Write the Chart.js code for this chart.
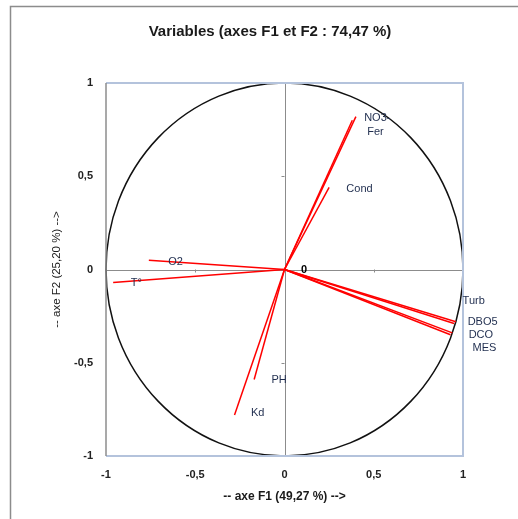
<!DOCTYPE html>
<html lang="fr">
<head>
    <meta charset="UTF-8">
    <title>Variables (axes F1 et F2)</title>
    <script src="https://cdn.jsdelivr.net/npm/chart.js"></script>
    <style>
        html, body { margin: 0; padding: 0; background: #fff; }
        #wrap { position: relative; width: 518px; height: 519px; }
    </style>
</head>
<body>
    <div id="wrap"><canvas id="cercle"></canvas></div>
    <script>
        // coordonnées des variables sur F1 / F2
        const varNames = ['NO3-', 'Fer', 'Cond', 'O2', 'T°', 'PH', 'Kd', 'Turb', 'DBO5', 'DCO', 'MES'];
        const f1 = [0.40, 0.38, 0.25, -0.76, -0.96, -0.17, -0.28, 0.96, 0.95, 0.94, 0.93];
        const f2 = [0.82, 0.80, 0.44, 0.05, -0.07, -0.59, -0.78, -0.28, -0.29, -0.34, -0.35];
        // où Excel a posé les étiquettes (en unités des axes)
        const labelF1 = [0.52, 0.51, 0.42, -0.61, -0.83, -0.03, -0.15, 1.06, 1.11, 1.10, 1.12];
        const labelF2 = [0.81, 0.74, 0.43, 0.04, -0.07, -0.59, -0.77, -0.17, -0.28, -0.35, -0.42];
        const tickValues = [-1, -0.5, 0, 0.5, 1];

        const titleText = 'Variables (axes F1 et F2 : 74,47 %)';
        const xTitle = '-- axe F1 (49,27 %) -->';
        const yTitle = '-- axe F2 (25,20 %) -->';

        const fmt = v => String(v).replace('.', ',');

        const datasets = varNames.map((name, i) => ({
            label: name,
            data: [{x: 0, y: 0}, {x: f1[i], y: f2[i]}],
            showLine: true,
            borderColor: '#ff0000',
            borderWidth: 1.5,
            pointRadius: 0
        }));

        const decor = {
            id: 'decor',
            beforeDraw(chart) {
                const ctx = chart.ctx;
                ctx.save();
                ctx.fillStyle = '#fff';
                ctx.fillRect(0, 0, chart.width, chart.height);
                // cadre extérieur
                ctx.strokeStyle = '#8c8c8c';
                ctx.lineWidth = 1.5;
                ctx.beginPath();
                ctx.moveTo(10.5, chart.height);
                ctx.lineTo(10.5, 6.5);
                ctx.lineTo(chart.width, 6.5);
                ctx.stroke();
                // titre
                ctx.font = 'bold 15px "Liberation Sans", Arial, sans-serif';
                ctx.fillStyle = '#1a1a1a';
                ctx.textAlign = 'center';
                ctx.textBaseline = 'middle';
                ctx.fillText(titleText, 270, 32);
                ctx.restore();
            },
            beforeDatasetsDraw(chart) {
                const {ctx, chartArea: a, scales: {x, y}} = chart;
                const cx = x.getPixelForValue(0), cy = y.getPixelForValue(0);
                ctx.save();
                // axes passant par 0
                ctx.strokeStyle = '#8c8c8c';
                ctx.lineWidth = 1;
                ctx.beginPath();
                ctx.moveTo(a.left, Math.round(cy) + 0.5);
                ctx.lineTo(a.right, Math.round(cy) + 0.5);
                ctx.moveTo(Math.round(cx) + 0.5, a.top);
                ctx.lineTo(Math.round(cx) + 0.5, a.bottom);
                tickValues.forEach(v => {
                    const px = Math.round(x.getPixelForValue(v)) + 0.5;
                    ctx.moveTo(px, cy);
                    ctx.lineTo(px, cy + 3);
                    const py = Math.round(y.getPixelForValue(v)) + 0.5;
                    ctx.moveTo(cx, py);
                    ctx.lineTo(cx - 3, py);
                });
                ctx.stroke();
                // cercle des corrélations
                ctx.strokeStyle = '#111';
                ctx.lineWidth = 1.5;
                ctx.beginPath();
                ctx.ellipse(cx, cy, x.getPixelForValue(1) - cx, cy - y.getPixelForValue(1), 0, 0, Math.PI * 2);
                ctx.stroke();
                ctx.restore();
            },
            afterDatasetsDraw(chart) {
                const {ctx, chartArea: a, scales: {x, y}} = chart;
                ctx.save();
                // bordure de la zone de traçage
                ctx.lineWidth = 2;
                ctx.strokeStyle = '#b4c3dc';
                ctx.beginPath();
                ctx.moveTo(a.left, a.top);
                ctx.lineTo(a.right, a.top);
                ctx.lineTo(a.right, a.bottom);
                ctx.lineTo(a.left, a.bottom);
                ctx.stroke();
                ctx.strokeStyle = '#8c8c8c';
                ctx.lineWidth = 1.5;
                ctx.beginPath();
                ctx.moveTo(a.left, a.top);
                ctx.lineTo(a.left, a.bottom);
                ctx.stroke();
                // étiquettes des variables
                ctx.font = '11px "Liberation Sans", Arial, sans-serif';
                ctx.fillStyle = '#1f2d4e';
                ctx.textAlign = 'center';
                ctx.textBaseline = 'middle';
                varNames.forEach((name, i) => {
                    ctx.fillText(name, x.getPixelForValue(labelF1[i]), y.getPixelForValue(labelF2[i]));
                });
                ctx.font = 'bold 11px "Liberation Sans", Arial, sans-serif';
                ctx.fillStyle = '#000';
                ctx.fillText('0', x.getPixelForValue(0.11), y.getPixelForValue(0));
                ctx.restore();
            }
        };

        new Chart(document.getElementById('cercle'), {
            type: 'scatter',
            data: {datasets: datasets},
            plugins: [decor],
            options: {
                responsive: true,
                maintainAspectRatio: false,
                animation: false,
                layout: {padding: {left: 0, right: 55, top: 83, bottom: 0}},
                plugins: {
                    legend: {display: false},
                    tooltip: {enabled: false},
                    title: {display: false}
                },
                scales: {
                    x: {
                        type: 'linear',
                        min: -1,
                        max: 1,
                        afterBuildTicks: s => { s.ticks = tickValues.map(v => ({value: v})); },
                        afterFit: s => { s.height = 63; },
                        grid: {display: false, drawTicks: false},
                        border: {display: false},
                        ticks: {
                            padding: 12,
                            color: '#222',
                            font: {family: '"Liberation Sans", Arial, sans-serif', size: 11, weight: 'bold'},
                            callback: v => fmt(v)
                        },
                        title: {
                            display: true,
                            text: xTitle,
                            color: '#1a1a1a',
                            font: {family: '"Liberation Sans", Arial, sans-serif', size: 12, weight: 'bold'},
                            padding: {top: 0, bottom: 15}
                        }
                    },
                    y: {
                        type: 'linear',
                        min: -1,
                        max: 1,
                        afterBuildTicks: s => { s.ticks = tickValues.map(v => ({value: v})); },
                        afterFit: s => { s.width = 106; },
                        grid: {display: false, drawTicks: false},
                        border: {display: false},
                        ticks: {
                            padding: 13,
                            color: '#222',
                            font: {family: '"Liberation Sans", Arial, sans-serif', size: 11, weight: 'bold'},
                            callback: v => fmt(v)
                        },
                        title: {
                            display: true,
                            text: yTitle,
                            color: '#1a1a1a',
                            font: {family: '"Liberation Sans", Arial, sans-serif', size: 11.5},
                            padding: {top: 50, bottom: 0}
                        }
                    }
                }
            }
        });
    </script>
</body>
</html>
